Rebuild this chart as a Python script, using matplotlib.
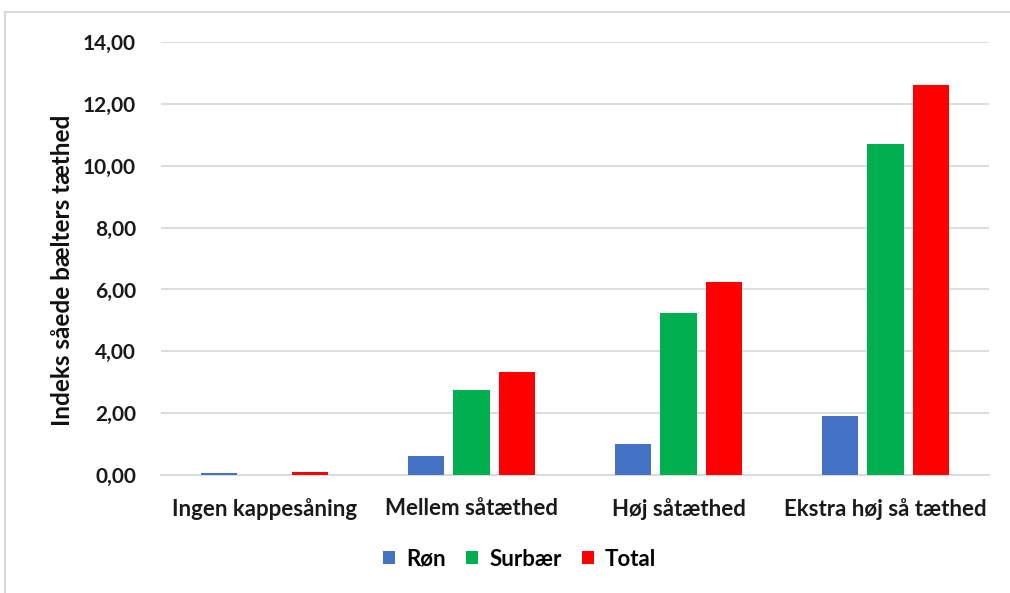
import matplotlib

matplotlib.use("Agg")

import matplotlib.pyplot as plt
import numpy as np
from matplotlib.patches import Rectangle
from matplotlib.ticker import FuncFormatter

CATEGORIES = ["Ingen kappesåning", "Mellem såtæthed", "Høj såtæthed", "Ekstra høj så tæthed"]
SERIES = ["Røn", "Surbær", "Total"]
RON = [0.06, 0.61, 1.00, 1.91]
SURBAER = [0.00, 2.77, 5.24, 10.70]
TOTAL = [0.10, 3.35, 6.24, 12.60]
COLORS = ["#4472c4", "#00b050", "#ff0000"]

plt.rcParams["font.family"] = ["Lato", "DejaVu Sans"]
plt.rcParams["font.weight"] = "bold"

W, H = 1010, 593
fig = plt.figure(figsize=(W / 100, H / 100), dpi=100)
ax = fig.add_axes([161 / W, 1 - 475.3 / H, 828 / W, 433.6 / H])

# outer chart frame, partly cropped on the right and bottom
fig.patches.append(Rectangle((5 / W, -0.05), 1.1, 1 - 12 / H + 0.05,
                             transform=fig.transFigure, fill=False,
                             edgecolor="#d9d9d9", linewidth=1.5))

x = np.arange(len(CATEGORIES))
width = 0.174
step = 0.222
for i, (name, vals, col) in enumerate(zip(SERIES, [RON, SURBAER, TOTAL], COLORS)):
    ax.bar(x + (i - 1) * step, vals, width=width, color=col, label=name, zorder=3)

ax.set_xlim(-0.5, len(CATEGORIES) - 0.5)
ax.set_ylim(0, 14)
ax.set_yticks(np.arange(0, 15, 2))
ax.yaxis.set_major_formatter(FuncFormatter(lambda v, _: f"{v:.2f}".replace(".", ",")))
ax.set_xticks(x)
ax.set_xticklabels(CATEGORIES)
ax.tick_params(axis="both", length=0, colors="#1a1a1a")
ax.tick_params(axis="y", labelsize=15, pad=18)
ax.tick_params(axis="x", labelsize=16, pad=16)
ax.grid(axis="y", color="#d9d9d9", linewidth=1.3, zorder=0)
for side in ["top", "right", "left"]:
    ax.spines[side].set_visible(False)
ax.spines["bottom"].set_color("#d9d9d9")
ax.spines["bottom"].set_linewidth(1.3)

fig.text(63 / W, 1 - 270 / H, "Indeks såede bælters tæthed", rotation=90,
         ha="center", va="center", fontsize=17.5, fontweight="bold", color="#111111")

fig.legend(*ax.get_legend_handles_labels(), loc="center",
           bbox_to_anchor=(519.5 / W, 1 - 559 / H), ncol=3, frameon=False,
           fontsize=16, handlelength=0.55, handleheight=0.55, handletextpad=0.5,
           columnspacing=0.9, borderpad=0)

fig.savefig("out.png", dpi=100)
